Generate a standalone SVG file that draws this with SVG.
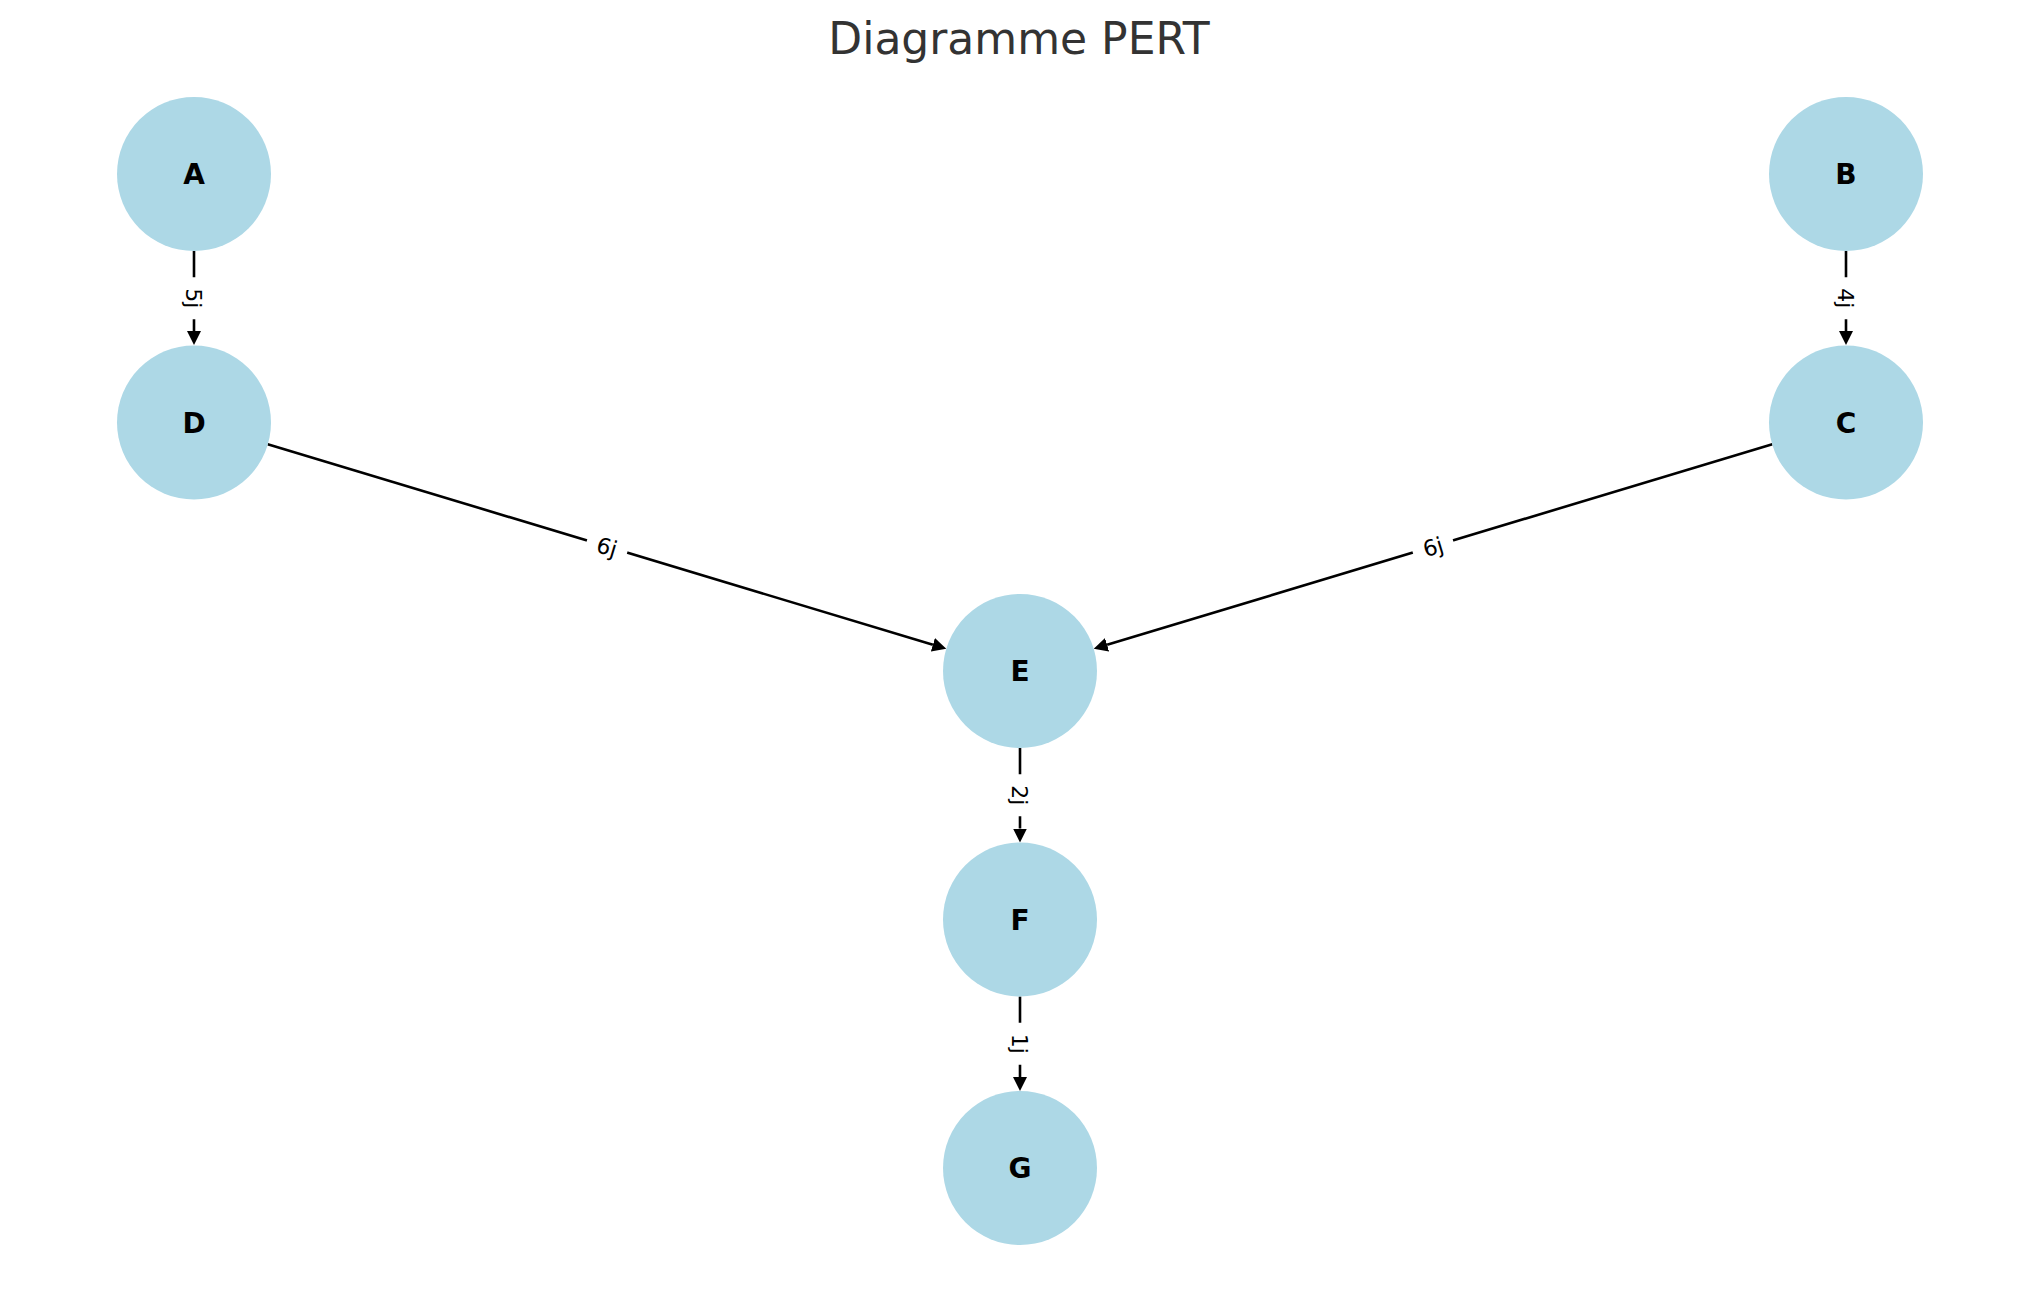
<svg xmlns="http://www.w3.org/2000/svg" width="2039" height="1290" viewBox="0 0 2039 1290">
<style>
.node{fill:#ADD8E6}
.nl{font-family:"DejaVu Sans","Liberation Sans",sans-serif;font-weight:bold;font-size:28px;fill:#000;text-anchor:middle}
.edge{stroke:#000;stroke-width:2.6;fill:none}
.el{font-family:"DejaVu Sans","Liberation Sans",sans-serif;font-size:22px;fill:#000;text-anchor:middle}
.lb{fill:#fff}
.title{font-family:"DejaVu Sans","Liberation Sans",sans-serif;font-size:44px;fill:#333;text-anchor:middle}
</style>
<defs>
<marker id="arr" markerUnits="userSpaceOnUse" viewBox="0 0 14 14" markerWidth="14" markerHeight="14" refX="0" refY="7" orient="auto">
<path d="M0,0 L14,7 L0,14 z" fill="#000"/>
</marker>
</defs>
<rect width="2039" height="1290" fill="#fff"/>
<text class="title" x="1019" y="54">Diagramme PERT</text>
<g id="connectors">
<g id="e-A-D">
<line class="edge" x1="194" y1="251" x2="194" y2="331" marker-end="url(#arr)"/>
<g transform="translate(194,298.25) rotate(90)"><rect class="lb" x="-21" y="-16" width="42" height="32" rx="6"/><text class="el" x="0" y="8">5j</text></g>
</g>
<g id="e-B-C">
<line class="edge" x1="1846" y1="251" x2="1846" y2="331" marker-end="url(#arr)"/>
<g transform="translate(1846,298.25) rotate(90)"><rect class="lb" x="-21" y="-16" width="42" height="32" rx="6"/><text class="el" x="0" y="8">4j</text></g>
</g>
<g id="e-D-E">
<line class="edge" x1="267.7" y1="444.2" x2="932.9" y2="644.8" marker-end="url(#arr)"/>
<g transform="translate(607,546.75) rotate(16.77)"><rect class="lb" x="-21" y="-16" width="42" height="32" rx="6"/><text class="el" x="0" y="8">6j</text></g>
</g>
<g id="e-C-E">
<line class="edge" x1="1772.3" y1="444.2" x2="1107.1" y2="644.8" marker-end="url(#arr)"/>
<g transform="translate(1433,546.75) rotate(-16.77)"><rect class="lb" x="-21" y="-16" width="42" height="32" rx="6"/><text class="el" x="0" y="8">6j</text></g>
</g>
<g id="e-E-F">
<line class="edge" x1="1020" y1="748" x2="1020" y2="828.5" marker-end="url(#arr)"/>
<g transform="translate(1020,795.25) rotate(90)"><rect class="lb" x="-21" y="-16" width="42" height="32" rx="6"/><text class="el" x="0" y="8">2j</text></g>
</g>
<g id="e-F-G">
<line class="edge" x1="1020" y1="996.5" x2="1020" y2="1077" marker-end="url(#arr)"/>
<g transform="translate(1020,1043.75) rotate(90)"><rect class="lb" x="-21" y="-16" width="42" height="32" rx="6"/><text class="el" x="0" y="8">1j</text></g>
</g>
</g>
<g id="node-A"><circle class="node" cx="194" cy="174" r="77"/><text class="nl" x="194" y="184">A</text></g>
<g id="node-B"><circle class="node" cx="1846" cy="174" r="77"/><text class="nl" x="1846" y="184">B</text></g>
<g id="node-D"><circle class="node" cx="194" cy="422.5" r="77"/><text class="nl" x="194" y="432.5">D</text></g>
<g id="node-C"><circle class="node" cx="1846" cy="422.5" r="77"/><text class="nl" x="1846" y="432.5">C</text></g>
<g id="node-E"><circle class="node" cx="1020" cy="671" r="77"/><text class="nl" x="1020" y="681">E</text></g>
<g id="node-F"><circle class="node" cx="1020" cy="919.5" r="77"/><text class="nl" x="1020" y="929.5">F</text></g>
<g id="node-G"><circle class="node" cx="1020" cy="1168" r="77"/><text class="nl" x="1020" y="1178">G</text></g>
</svg>
